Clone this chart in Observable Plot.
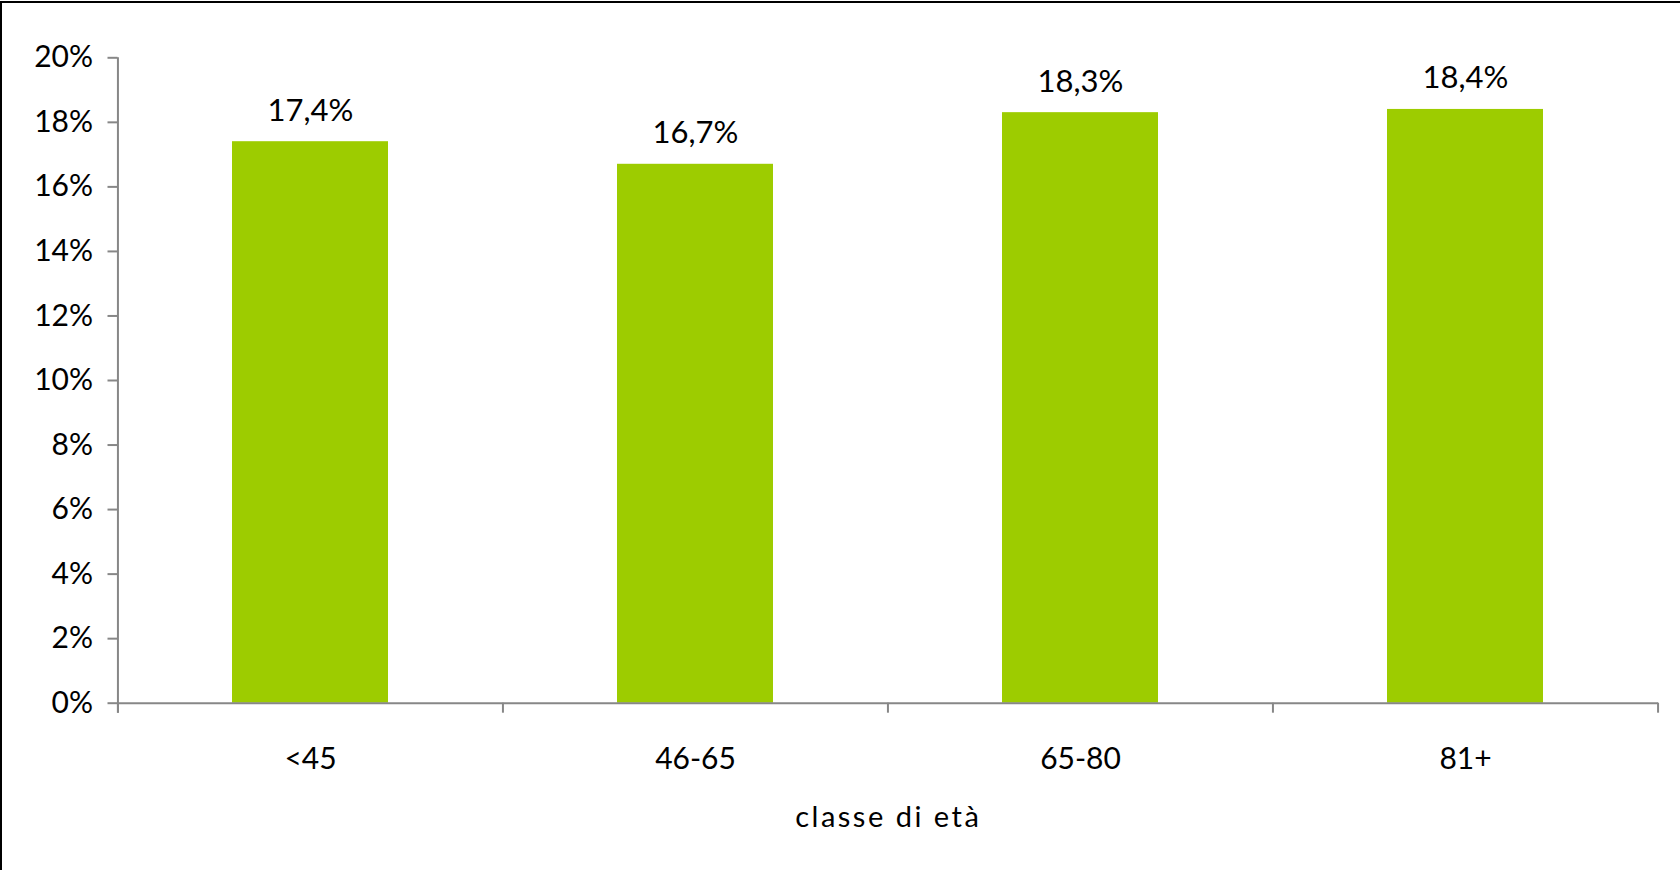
<!DOCTYPE html>
<html>
<head>
<meta charset="utf-8">
<script src="https://cdn.jsdelivr.net/npm/d3@7"></script>
<script src="https://cdn.jsdelivr.net/npm/@observablehq/plot@0.6"></script>
<style>
  html, body { margin: 0; padding: 0; background: #fff; }
  #chart { position: relative; width: 1680px; height: 870px; overflow: hidden; }
  #chart svg { position: absolute; left: 0; top: 0; }
  #edge { position: absolute; left: 0; top: 1px; width: 1680px; height: 869px;
          border-top: 2px solid #000; border-left: 2px solid #000;
          box-sizing: border-box; pointer-events: none; }
  .x-title { letter-spacing: 2.5px; }
</style>
</head>
<body>
<div id="chart"><div id="edge"></div></div>
<script>
// Age classes and their share (%)
const categories = ["<45", "46-65", "65-80", "81+"];
const values = [17.4, 16.7, 18.3, 18.4];
const yTicks = [0, 2, 4, 6, 8, 10, 12, 14, 16, 18, 20];
const xTitle = "classe di età";

const data = categories.map((c, i) => ({cat: c, value: values[i]}));

const W = 1680, H = 870;
const mL = 117.5, mR = 22, mT = 57.3, mB = 167.3;
const half = (W - mL - mR) / categories.length / 2;

const axisColor = "#878787";
const barColor = "#9dcc00";
const font = "Lato, 'Open Sans', sans-serif";
const pct = v => v.toFixed(1).replace(".", ",") + "%";

const chart = Plot.plot({
  width: W,
  height: H,
  marginLeft: mL,
  marginRight: mR,
  marginTop: mT,
  marginBottom: mB,
  style: {fontFamily: font, color: "#000", background: "transparent"},
  x: {domain: categories, paddingInner: 0.596, paddingOuter: 0.298, label: null},
  y: {domain: [0, 20], label: null},
  marks: [
    Plot.barY(data, {x: "cat", y: "value", fill: barColor}),
    // value axis line, extending below zero like the category ticks
    Plot.ruleX([categories[0]], {x: d => d, dx: -half, y1: 20, y2: 0, insetBottom: -10,
      stroke: axisColor, strokeWidth: 2}),
    // category boundary ticks
    Plot.ruleX(categories, {x: d => d, dx: -half, y1: 0, y2: 0, insetBottom: -10,
      stroke: axisColor, strokeWidth: 2}),
    Plot.ruleX([categories[categories.length - 1]], {x: d => d, dx: half, y1: 0, y2: 0, insetBottom: -10,
      stroke: axisColor, strokeWidth: 2}),
    Plot.ruleY([0], {stroke: axisColor, strokeWidth: 2}),
    Plot.axisY({ticks: yTicks, tickFormat: d => d + "%", tickSize: 10, tickPadding: 15,
      stroke: axisColor, strokeWidth: 2, strokeOpacity: 1, fontSize: 30, fill: "#000", label: null}),
    Plot.axisX({tickSize: 0, tickPadding: 44, fontSize: 30, fill: "#000", label: null}),
    Plot.text(data, {x: "cat", y: "value", text: d => pct(d.value), dy: -21,
      lineAnchor: "bottom", fontSize: 31, fill: "#000"}),
    Plot.text([xTitle], {frameAnchor: "bottom", dy: 124, lineAnchor: "bottom",
      fontSize: 29, fill: "#000", className: "x-title"})
  ]
});
document.getElementById("chart").prepend(chart);
</script>
</body>
</html>
